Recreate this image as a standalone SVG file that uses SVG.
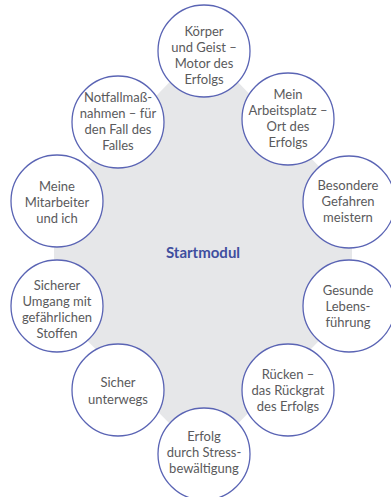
<svg xmlns="http://www.w3.org/2000/svg" width="391" height="497" viewBox="0 0 391 497">
<style>
.bg{fill:#e6e7e9}
.n circle{fill:#ffffff;stroke:#5a64b4;stroke-width:1.3}
.n text{font-family:Lato,"Open Sans",sans-serif;font-size:13px;fill:#5a5a5c;text-anchor:middle}
.c{font-family:Lato,"Open Sans",sans-serif;font-size:15px;font-weight:bold;fill:#3f4f9f;text-anchor:middle}
</style>
<rect width="391" height="497" fill="#ffffff"/>
<g id="connectors">
<polygon class="bg" points="204,51 349,202 349,306 204,454 57,306 57,202" stroke="#e6e7e9" stroke-width="6" stroke-linejoin="round"/>
</g>
<g id="center"><text class="c" x="203" y="258">Startmodul</text></g>
<g id="n1" class="n"><circle cx="204" cy="51" r="46"/>
<text x="204" y="36">Körper</text><text x="204" y="52">und Geist –</text><text x="204" y="68">Motor des</text><text x="204" y="84">Erfolgs</text></g>
<g id="n2" class="n"><circle cx="288" cy="119" r="46"/>
<text x="288" y="99">Mein</text><text x="288" y="115">Arbeitsplatz –</text><text x="288" y="131">Ort des</text><text x="288" y="147">Erfolgs</text></g>
<g id="n3" class="n"><circle cx="349" cy="202" r="46"/>
<text x="348" y="190">Besondere</text><text x="348" y="206">Gefahren</text><text x="348" y="222">meistern</text></g>
<g id="n4" class="n"><circle cx="349" cy="306" r="46"/>
<text x="348" y="295">Gesunde</text><text x="348" y="311">Lebens-</text><text x="348" y="327">führung</text></g>
<g id="n5" class="n"><circle cx="288" cy="390" r="46"/>
<text x="288" y="379">Rücken –</text><text x="288" y="395">das Rückgrat</text><text x="288" y="411">des Erfolgs</text></g>
<g id="n6" class="n"><circle cx="204" cy="454" r="46"/>
<text x="204" y="441">Erfolg</text><text x="204" y="457">durch Stress-</text><text x="204" y="473">bewältigung</text></g>
<g id="n7" class="n"><circle cx="118" cy="390" r="46"/>
<text x="118" y="387">Sicher</text><text x="118" y="404">unterwegs</text></g>
<g id="n8" class="n"><circle cx="57" cy="306" r="46"/>
<text x="57" y="290">Sicherer</text><text x="57" y="306">Umgang mit</text><text x="57" y="322">gefährlichen</text><text x="57" y="338">Stoffen</text></g>
<g id="n9" class="n"><circle cx="57" cy="201" r="46"/>
<text x="57" y="191">Meine</text><text x="57" y="207">Mitarbeiter</text><text x="57" y="223">und ich</text></g>
<g id="n10" class="n"><circle cx="118" cy="122" r="46"/>
<text x="118" y="102">Notfallmaß-</text><text x="118" y="118">nahmen – für</text><text x="118" y="134">den Fall des</text><text x="118" y="150">Falles</text></g>
</svg>
